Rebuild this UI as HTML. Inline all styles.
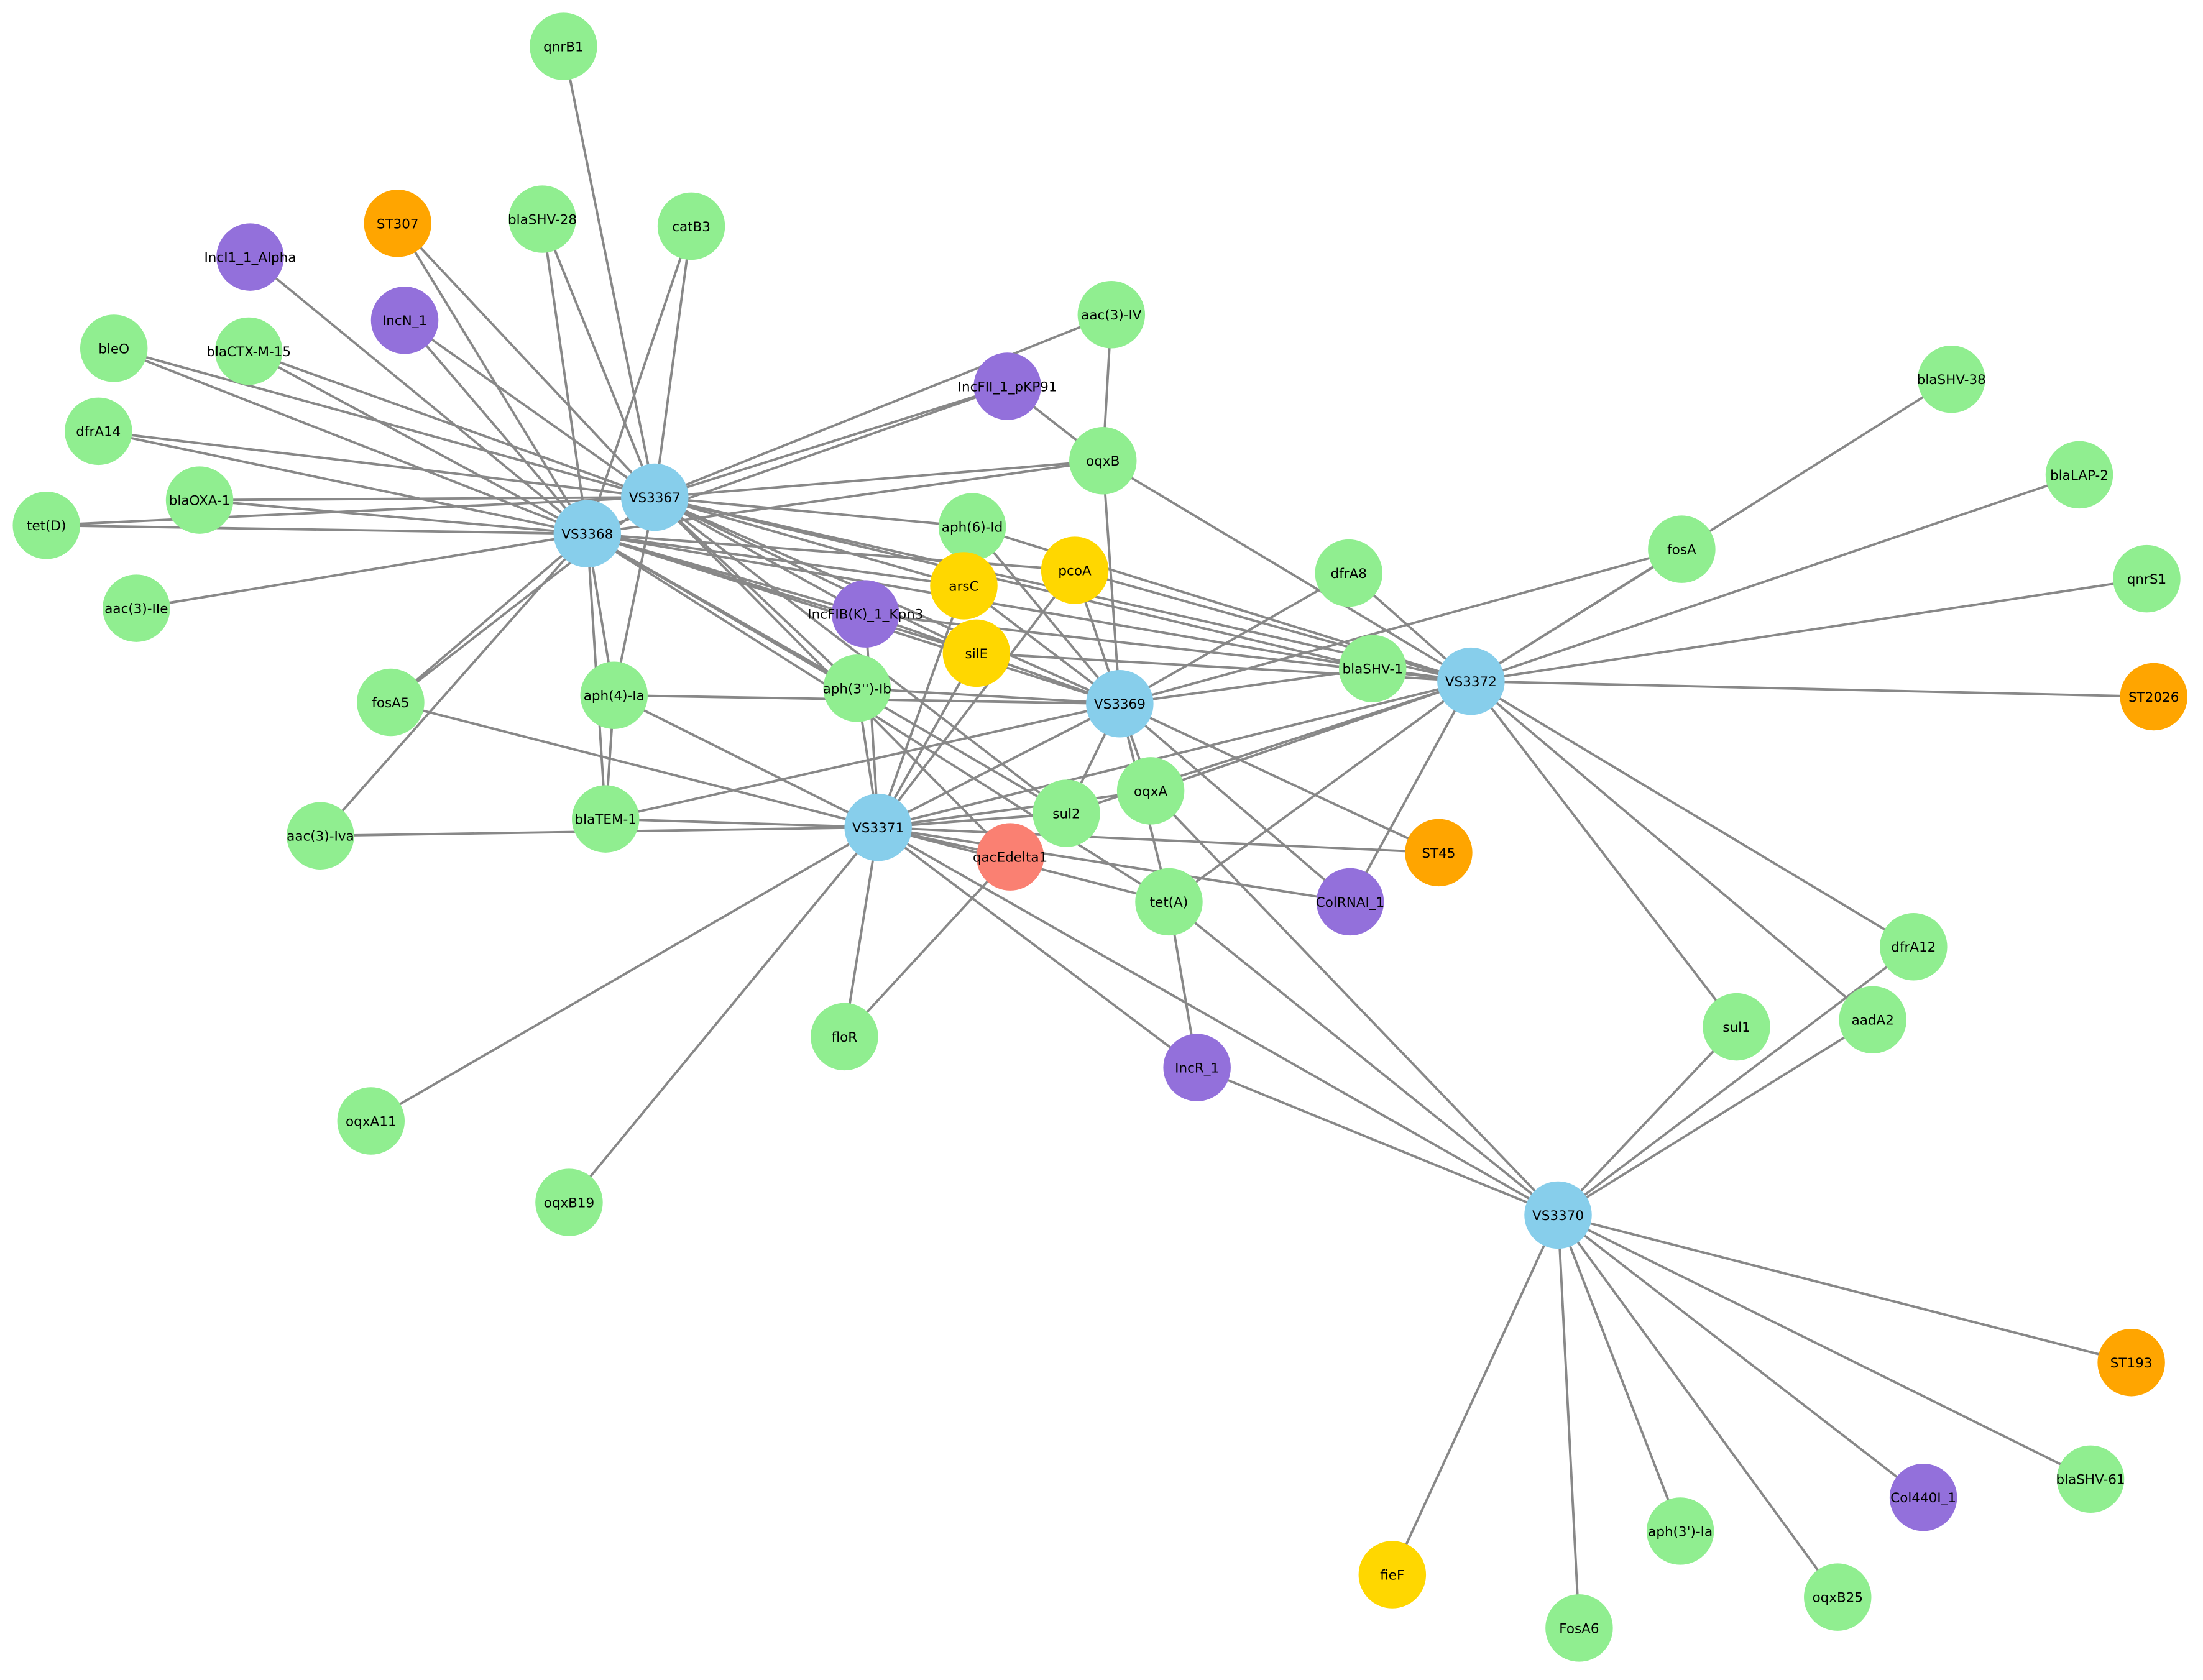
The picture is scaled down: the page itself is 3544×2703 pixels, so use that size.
<!DOCTYPE html>
<html><head><meta charset="utf-8"><style>html,body{margin:0;padding:0;background:#fff}svg{display:block}</style></head>
<body>
<svg width="3544" height="2703" viewBox="0 0 1568 1196" xmlns="http://www.w3.org/2000/svg">
<rect width="1568" height="1196" fill="#fff"/>
<g id="edges" stroke="#888" stroke-width="1.7" fill="none"></g>
<g id="nodes"></g>
<script>
var N={
"qnrB1":[401,33,"g"],"ST307":[283,159,"o"],"blaSHV-28":[386,156,"g"],"catB3":[492,161,"g"],
"IncI1_1_Alpha":[178,183,"p"],"IncN_1":[288,228,"p"],"bleO":[81,248,"g"],"blaCTX-M-15":[177,250,"g"],
"aac(3)-IV":[791,224,"g"],"IncFII_1_pKP91":[717,275,"p"],"blaSHV-38":[1389,270,"g"],"dfrA14":[70,307,"g"],
"oqxB":[785,328,"g"],"blaLAP-2":[1480,338,"g"],"VS3367":[466,354,"b"],"blaOXA-1":[142,356,"g"],
"tet(D)":[33,374,"g"],"VS3368":[418,380,"b"],"aph(6)-Id":[692,375,"g"],"arsC":[686,417,"y"],
"pcoA":[765,406,"y"],"fosA":[1197,391,"g"],"dfrA8":[960,408,"g"],"qnrS1":[1528,412,"g"],
"aac(3)-IIe":[97,433,"g"],"IncFIB(K)_1_Kpn3":[616,437,"p"],"silE":[695,465,"y"],"blaSHV-1":[977,476,"g"],
"VS3372":[1047,485,"b"],"ST2026":[1533,496,"o"],"fosA5":[278,500,"g"],"aph(4)-Ia":[437,495,"g"],
"aph(3'')-Ib":[610,490,"g"],"VS3369":[797,501,"b"],"oqxA":[819,563,"g"],"sul2":[759,579,"g"],
"blaTEM-1":[431,583,"g"],"aac(3)-Iva":[228,595,"g"],"VS3371":[625,589,"b"],"qacEdelta1":[719,610,"r"],
"ST45":[1024,607,"o"],"tet(A)":[832,642,"g"],"ColRNAI_1":[961,642,"p"],"dfrA12":[1362,674,"g"],
"sul1":[1236,731,"g"],"aadA2":[1333,726,"g"],"floR":[601,738,"g"],"IncR_1":[852,760,"p"],
"oqxA11":[264,798,"g"],"oqxB19":[405,856,"g"],"VS3370":[1109,865,"b"],"ST193":[1517,970,"o"],
"Col440I_1":[1369,1066,"p"],"blaSHV-61":[1488,1053,"g"],"aph(3')-Ia":[1196,1090,"g"],"fieF":[991,1121,"y"],
"FosA6":[1124,1159,"g"],"oqxB25":[1308,1137,"g"]};
var C={g:"#90ee90",o:"#ffa500",p:"#9370db",b:"#87ceeb",y:"#ffd700",r:"#fa8072"};
var E={
"VS3367":["qnrB1","ST307","blaSHV-28","catB3","IncN_1","bleO","blaCTX-M-15","IncFII_1_pKP91","aac(3)-IV","oqxB","dfrA14","blaOXA-1","tet(D)","aph(6)-Id","arsC","IncFIB(K)_1_Kpn3","aph(3'')-Ib","silE","blaSHV-1","aph(4)-Ia","fosA5","sul2","qacEdelta1","VS3369","VS3372"],
"VS3368":["ST307","blaSHV-28","catB3","IncI1_1_Alpha","IncN_1","bleO","blaCTX-M-15","IncFII_1_pKP91","oqxB","dfrA14","blaOXA-1","tet(D)","aac(3)-IIe","aph(4)-Ia","blaTEM-1","fosA5","aac(3)-Iva","arsC","IncFIB(K)_1_Kpn3","aph(3'')-Ib","silE","pcoA","sul2","tet(A)","blaSHV-1","VS3369"],
"VS3369":["oqxB","dfrA8","fosA","blaSHV-1","aph(4)-Ia","aph(6)-Id","pcoA","arsC","IncFIB(K)_1_Kpn3","aph(3'')-Ib","ST45","ColRNAI_1","oqxA","sul2","tet(A)","VS3371","blaTEM-1"],
"VS3372":["oqxB","blaSHV-38","blaLAP-2","qnrS1","ST2026","fosA","dfrA8","blaSHV-1","sul1","aadA2","dfrA12","ColRNAI_1","tet(A)","oqxA","sul2","aph(6)-Id","pcoA","IncFIB(K)_1_Kpn3","silE"],
"VS3371":["fosA5","aph(4)-Ia","blaTEM-1","aac(3)-Iva","arsC","pcoA","silE","IncFIB(K)_1_Kpn3","aph(3'')-Ib","oqxA11","oqxB19","floR","qacEdelta1","IncR_1","ColRNAI_1","ST45","tet(A)","sul2","oqxA","VS3370","VS3372"],
"VS3370":["IncR_1","tet(A)","oqxA","sul1","aadA2","dfrA12","ST193","Col440I_1","blaSHV-61","aph(3')-Ia","fieF","FosA6","oqxB25"],
"oqxB":["aac(3)-IV","IncFII_1_pKP91"],"qacEdelta1":["floR"],"tet(A)":["IncR_1"],"blaTEM-1":["aph(4)-Ia"]};
var ns="http://www.w3.org/2000/svg",eg=document.getElementById("edges"),ng=document.getElementById("nodes");
for(var a in E){E[a].forEach(function(b){var l=document.createElementNS(ns,"line");l.setAttribute("x1",N[a][0]);l.setAttribute("y1",N[a][1]);l.setAttribute("x2",N[b][0]);l.setAttribute("y2",N[b][1]);eg.appendChild(l);});}
for(var k in N){var n=N[k];var c=document.createElementNS(ns,"circle");c.setAttribute("cx",n[0]);c.setAttribute("cy",n[1]);c.setAttribute("r",24);c.setAttribute("fill",C[n[2]]);ng.appendChild(c);}
for(var k in N){var n=N[k];var t=document.createElementNS(ns,"text");t.setAttribute("x",n[0]);t.setAttribute("y",n[1]+3.5);t.setAttribute("text-anchor","middle");t.setAttribute("font-family","DejaVu Sans, Liberation Sans, sans-serif");t.setAttribute("font-size","9.5");t.setAttribute("fill","#000");t.textContent=k;ng.appendChild(t);}
</script>
</svg>
</body></html>
